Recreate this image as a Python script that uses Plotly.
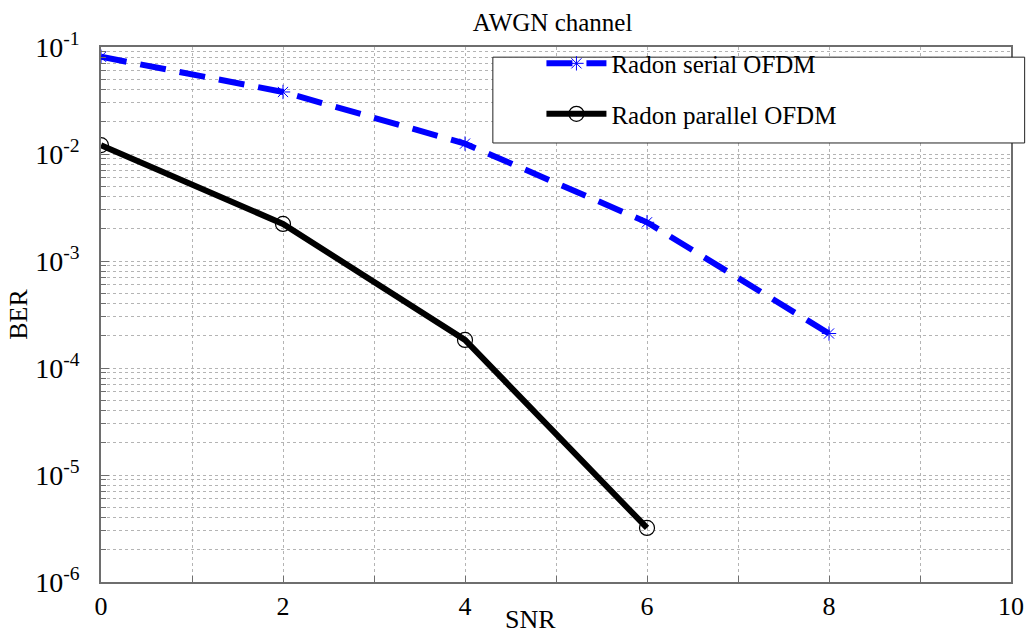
import plotly.graph_objects as go

# BER vs SNR for the two Radon OFDM schemes over an AWGN channel
snr_serial = [0, 2, 4, 6, 8]
ber_serial = [0.081, 0.038, 0.0125, 0.0023, 0.00021]

snr_parallel = [0, 2, 4, 6]
ber_parallel = [0.0121, 0.00222, 0.000183, 0.0000032]

x_ticks = [0, 2, 4, 6, 8, 10]
y_ticks = [1e-6, 1e-5, 1e-4, 1e-3, 1e-2, 1e-1]
y_tick_text = ["10<sup>-6</sup>", "10<sup>-5</sup>", "10<sup>-4</sup>",
               "10<sup>-3</sup>", "10<sup>-2</sup>", "10<sup>-1</sup>"]

FONT = "Liberation Serif"
GRID = "#b4b4b4"
AXIS = "#6e6e6e"

# minor grid positions: 2..9 in each decade
minor_y = [m * 10.0 ** e for e in range(-6, -1) for m in range(2, 10)]

fig = go.Figure()

fig.add_trace(go.Scatter(
    x=snr_serial, y=ber_serial, name="Radon serial OFDM",
    mode="lines+markers",
    line=dict(color="#0000ff", width=6, dash="26px,14px"),
    marker=dict(symbol="asterisk-open", size=12,
                line=dict(color="#0000ff", width=1)),
    legendgroup="a",
))
fig.add_trace(go.Scatter(
    x=snr_parallel, y=ber_parallel, name="Radon parallel OFDM",
    mode="lines+markers",
    line=dict(color="black", width=6),
    marker=dict(symbol="circle-open", size=15,
                line=dict(color="#444444", width=1.2)),
    legendgroup="b",
))

# legend frame
fig.add_shape(type="rect", xref="paper", yref="paper",
              x0=0.4306, x1=1.015, y0=0.8206, y1=0.981,
              fillcolor="white", line=dict(color="#222222", width=1),
              layer="above")

# x-axis caption
fig.add_annotation(text="SNR", xref="paper", yref="paper",
                   x=(533 - 101) / 915, y=-(619 - 582) / 535,
                   xanchor="center", yanchor="middle", showarrow=False,
                   font=dict(family=FONT, size=26, color="black"))

fig.update_layout(
    width=1036, height=636,
    margin=dict(l=101, r=20, t=47, b=54),
    paper_bgcolor="white", plot_bgcolor="white",
    font=dict(family=FONT, size=24, color="black"),
    title=dict(text="AWGN channel", x=(555 - 101) / 915, xref="paper",
               xanchor="center", y=0.965, yanchor="middle",
               font=dict(family=FONT, size=25, color="black")),
    showlegend=True,
    legend=dict(x=0.484, y=1.012, xanchor="left", yanchor="top",
                bgcolor="rgba(0,0,0,0)", borderwidth=0,
                traceorder="grouped", tracegroupgap=15,
                itemwidth=60,
                font=dict(family=FONT, size=25, color="black")),
    xaxis=dict(
        range=[0, 10], tickvals=x_ticks, ticktext=[str(v) for v in x_ticks],
        showgrid=True, gridcolor=GRID, griddash="dot", gridwidth=1,
        minor=dict(dtick=1, showgrid=True, gridcolor=GRID, griddash="dot",
                   ticks="inside", ticklen=6, tickcolor=AXIS),
        ticks="inside", ticklen=6, tickcolor=AXIS,
        showline=True, linecolor=AXIS, linewidth=1.5, mirror=True,
        zeroline=False,
        tickfont=dict(family=FONT, size=26),
    ),
    yaxis=dict(
        type="log", range=[-6, -1],
        tickvals=y_ticks, ticktext=y_tick_text,
        showgrid=True, gridcolor=GRID, griddash="dot", gridwidth=1,
        minor=dict(tickvals=minor_y, showgrid=True, gridcolor=GRID,
                   griddash="dot", ticks="inside", ticklen=5,
                   tickcolor=AXIS),
        ticks="inside", ticklen=8, tickcolor=AXIS,
        showline=True, linecolor=AXIS, linewidth=1.5, mirror=True,
        zeroline=False,
        ticklabelstandoff=14,
        tickfont=dict(family=FONT, size=28),
        title=dict(text="BER", font=dict(family=FONT, size=26), standoff=0),
    ),
)

fig.write_html("out.html")
